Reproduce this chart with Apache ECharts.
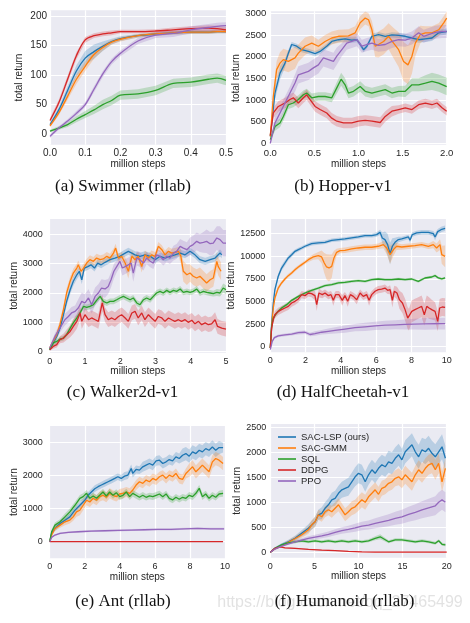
<!DOCTYPE html>
<html><head><meta charset="utf-8">
<script src="https://cdn.jsdelivr.net/npm/echarts@6.0.0/dist/echarts.min.js"></script>
<style>html,body{margin:0;padding:0;background:#fff}#c{width:470px;height:623px}</style>
</head><body><div id="c"></div>
<script>
// ---------------- DATA ----------------
const METHODS = ['SAC-LSP (ours)','SAC-GMM','SQL','DDPG','PPO'];
// each point: [million steps, mean return, half-width of shaded band]

// (a) Swimmer (rllab)
const swimmerXTicks = [0,0.1,0.2,0.3,0.4,0.5];
const swimmerYTicks = [0,50,100,150,200];
const swimmerBlue   = [[0,16,3],[0.025,41,5],[0.05,74,7],[0.075,107,10],[0.1,129,12],[0.125,140,12],[0.15,149,8],[0.175,157,5],[0.2,162,4],[0.25,167,3],[0.3,170,3],[0.35,172,3],[0.4,173,3],[0.45,173,3],[0.475,174,3],[0.5,174,3]];
const swimmerOrange = [[0,14,3],[0.025,36,4],[0.05,64,6],[0.075,93,8],[0.1,115,8],[0.125,135,7],[0.15,147,5],[0.175,156,4],[0.2,161,4],[0.25,167,3],[0.3,170,3],[0.35,172,3],[0.4,173,3],[0.45,173,3],[0.475,174,3],[0.5,174,3]];
const swimmerGreen  = [[0,5,2],[0.025,10,3],[0.05,16,4],[0.075,25,5],[0.1,33,6],[0.125,41,7],[0.15,50,8],[0.175,57,8],[0.2,66,8],[0.25,68,8],[0.3,74,8],[0.35,86,8],[0.4,88,8],[0.45,93,8],[0.475,95,8],[0.5,91,8]];
const swimmerRed    = [[0,23,4],[0.025,53,5],[0.05,93,6],[0.075,133,6],[0.1,160,5],[0.125,167,4],[0.15,170,4],[0.175,172,4],[0.2,174,3],[0.25,174,3],[0.3,175,3],[0.35,177,4],[0.4,179,4],[0.45,180,5],[0.475,179,5],[0.5,177,5]];
const swimmerPurple = [[0,-4,3],[0.025,10,3],[0.05,22,3],[0.075,35,4],[0.1,50,4],[0.125,76,5],[0.15,102,5],[0.175,123,5],[0.2,137,5],[0.25,158,5],[0.3,168,5],[0.35,171,6],[0.4,177,6],[0.45,181,6],[0.475,183,6],[0.5,184,6]];

// (b) Hopper-v1
const hopperXTicks = [0,0.5,1,1.5,2];
const hopperYTicks = [0,500,1000,1500,2000,2500,3000];
const hopperBlue   = [[0,160,40],[0.053,1160,150],[0.11,1620,150],[0.167,1850,100],[0.205,2080,80],[0.242,2280,60],[0.299,2240,60],[0.356,2160,60],[0.432,2120,60],[0.508,2070,60],[0.564,2120,60],[0.64,2240,60],[0.697,2350,60],[0.773,2390,60],[0.848,2410,60],[0.924,2380,60],[0.981,2390,60],[1.019,2280,60],[1.057,2160,60],[1.095,2240,60],[1.152,2470,60],[1.227,2510,60],[1.303,2470,60],[1.379,2500,60],[1.455,2490,60],[1.53,2470,60],[1.606,2430,70],[1.682,2390,70],[1.758,2410,70],[1.833,2430,70],[1.909,2550,70],[2.0,2580,70]];
const hopperOrange = [[0,160,40],[0.034,1080,150],[0.072,1700,200],[0.11,1850,250],[0.148,1930,250],[0.205,1890,250],[0.28,1970,250],[0.318,2080,200],[0.394,2240,200],[0.47,2310,180],[0.545,2240,150],[0.621,2350,150],[0.697,2430,150],[0.773,2470,150],[0.886,2480,150],[0.962,2550,150],[1.019,2780,150],[1.076,2890,150],[1.114,2850,150],[1.152,2620,200],[1.189,2240,250],[1.227,2280,300],[1.284,2350,300],[1.341,2470,300],[1.398,2310,350],[1.455,2160,400],[1.511,1890,450],[1.561,1810,450],[1.606,2010,400],[1.644,2310,300],[1.701,2510,200],[1.758,2550,150],[1.833,2550,150],[1.909,2620,150],[1.966,2780,150],[2.0,2890,150]];
const hopperGreen  = [[0,85,40],[0.053,390,100],[0.11,470,100],[0.148,620,100],[0.205,890,100],[0.261,930,100],[0.318,1010,100],[0.375,1120,100],[0.413,1160,100],[0.47,1050,100],[0.545,1080,100],[0.621,1080,100],[0.697,1050,100],[0.754,1280,130],[0.803,1480,150],[0.848,1350,150],[0.886,1160,120],[0.943,1200,120],[1.019,1310,120],[1.076,1200,120],[1.152,1160,120],[1.227,1200,120],[1.303,1240,120],[1.379,1160,120],[1.455,1200,120],[1.53,1200,130],[1.606,1350,150],[1.682,1350,150],[1.758,1390,180],[1.833,1430,200],[1.909,1390,200],[2.0,1310,200]];
const hopperRed    = [[0,180,40],[0.034,700,120],[0.091,850,120],[0.167,930,120],[0.223,1010,120],[0.261,1050,120],[0.318,930,120],[0.375,1050,120],[0.413,1120,120],[0.451,1010,120],[0.508,850,120],[0.564,780,120],[0.64,700,120],[0.697,580,120],[0.754,510,120],[0.83,470,120],[0.924,470,120],[1.0,510,120],[1.076,530,120],[1.152,510,120],[1.246,480,120],[1.303,620,120],[1.379,740,120],[1.455,780,100],[1.53,820,100],[1.606,780,100],[1.682,890,100],[1.758,930,100],[1.833,890,100],[1.89,930,100],[1.947,820,100],[2.0,740,100]];
const hopperPurple = [[0,0,30],[0.053,470,150],[0.11,700,150],[0.167,930,150],[0.223,1160,150],[0.28,1390,200],[0.318,1580,200],[0.375,1620,200],[0.432,1660,200],[0.489,1740,200],[0.545,1810,200],[0.602,1970,200],[0.659,1930,200],[0.716,1890,200],[0.754,2010,200],[0.811,2160,150],[0.867,2310,150],[0.924,2350,150],[0.981,2390,150],[1.038,2240,150],[1.095,2280,150],[1.152,2310,150],[1.227,2260,150],[1.303,2280,150],[1.379,2350,150],[1.455,2390,150],[1.53,2380,150],[1.606,2430,150],[1.682,2550,150],[1.739,2470,150],[1.795,2510,150],[1.871,2560,150],[1.947,2580,150],[2.0,2580,150]];

// (c) Walker2d-v1
const walkerXTicks = [0,1,2,3,4,5];
const walkerYTicks = [0,1000,2000,3000,4000];
const walkerBlue   = [[0,70,50],[0.1,300,100],[0.2,520,120],[0.29,800,120],[0.39,1260,150],[0.48,1715,150],[0.58,2110,150],[0.67,2400,150],[0.77,2620,150],[0.84,2740,150],[0.91,2450,150],[0.98,2850,120],[1.08,2900,120],[1.17,2960,120],[1.27,2850,120],[1.36,3020,120],[1.46,2960,120],[1.57,3045,120],[1.71,3135,120],[1.85,3190,120],[1.99,3250,120],[2.14,3360,120],[2.23,3420,120],[2.33,3360,120],[2.42,3300,120],[2.56,3250,120],[2.7,3300,120],[2.85,3250,120],[2.99,3135,120],[3.13,3250,120],[3.27,3190,120],[3.41,3250,120],[3.55,3300,120],[3.7,3360,120],[3.84,3300,120],[3.98,3420,120],[4.12,3300,120],[4.26,3135,120],[4.41,3080,120],[4.55,3135,120],[4.69,3190,120],[4.83,3360,120],[4.88,3300,120]];
const walkerOrange = [[0,125,50],[0.1,350,100],[0.2,580,120],[0.29,920,150],[0.39,1430,150],[0.48,2000,150],[0.58,2400,150],[0.67,2680,150],[0.77,2850,150],[0.81,2960,150],[0.89,2740,150],[0.96,2850,150],[1.05,3020,150],[1.14,3135,150],[1.24,3080,150],[1.33,3190,150],[1.43,3135,150],[1.52,3160,150],[1.62,3250,150],[1.71,3190,150],[1.81,3360,150],[1.87,3530,150],[1.95,3190,150],[2.04,3250,150],[2.14,3020,200],[2.23,2740,250],[2.33,3250,200],[2.42,3135,150],[2.51,3250,150],[2.61,2900,200],[2.7,3300,150],[2.8,3190,150],[2.89,3300,150],[2.99,3250,150],[3.08,3590,150],[3.18,3475,150],[3.27,3300,150],[3.37,3420,150],[3.46,3360,150],[3.55,3385,150],[3.65,3420,150],[3.72,3250,250],[3.79,2740,350],[3.89,2620,350],[3.98,2680,300],[4.07,2570,300],[4.17,2510,300],[4.26,2570,300],[4.36,2450,300],[4.45,2340,300],[4.55,2450,300],[4.64,2510,300],[4.74,3080,300],[4.78,2900,300],[4.86,2740,300]];
const walkerGreen  = [[0,70,40],[0.1,300,80],[0.2,350,80],[0.29,430,80],[0.39,465,80],[0.48,580,80],[0.58,800,100],[0.67,980,100],[0.77,1150,100],[0.86,1320,100],[0.96,1545,100],[1.05,1510,100],[1.14,1545,100],[1.24,1600,100],[1.33,1750,100],[1.43,1885,100],[1.52,1715,100],[1.62,1660,100],[1.71,1715,100],[1.81,1715,100],[1.9,1770,100],[1.99,1830,100],[2.09,1885,100],[2.18,1830,100],[2.28,1770,100],[2.37,1830,100],[2.47,1660,100],[2.56,1600,100],[2.66,1770,100],[2.75,1830,100],[2.85,1770,100],[2.94,1885,100],[3.03,2000,100],[3.13,2055,100],[3.22,2000,100],[3.32,2090,100],[3.41,2020,100],[3.51,2090,100],[3.6,2055,100],[3.7,2135,100],[3.79,2020,100],[3.89,2055,100],[3.98,2020,100],[4.07,2055,100],[4.17,2135,100],[4.26,2000,100],[4.36,2055,100],[4.45,2020,100],[4.55,2000,100],[4.64,1980,100],[4.74,2020,120],[4.83,2000,120],[4.92,2170,150],[5.0,2110,150]];
const walkerRed    = [[0,70,40],[0.1,180,80],[0.2,240,100],[0.29,410,120],[0.39,465,150],[0.48,580,180],[0.58,690,200],[0.67,860,250],[0.77,1035,250],[0.86,1320,250],[0.91,1035,250],[1.0,1260,250],[1.1,1090,250],[1.19,1150,250],[1.29,1090,250],[1.38,1035,250],[1.49,1660,300],[1.57,1260,250],[1.66,1090,250],[1.76,1150,250],[1.85,1090,250],[1.95,1200,250],[2.04,1260,250],[2.14,1150,250],[2.23,1035,250],[2.33,1320,250],[2.42,1375,250],[2.51,1150,250],[2.61,1320,250],[2.7,1090,250],[2.8,1260,250],[2.89,1150,250],[2.99,1035,250],[3.08,1200,250],[3.18,1150,250],[3.27,1035,250],[3.37,1150,250],[3.46,1090,250],[3.55,1035,250],[3.65,1090,250],[3.74,1035,250],[3.84,1090,250],[3.93,1000,250],[4.03,1070,250],[4.12,950,250],[4.22,1035,250],[4.31,920,250],[4.41,980,250],[4.5,920,250],[4.59,950,250],[4.69,1090,250],[4.76,860,250],[4.88,800,250],[5.0,770,250]];
const walkerPurple = [[0,125,50],[0.15,520,120],[0.29,800,150],[0.43,1090,200],[0.53,1200,200],[0.62,1320,200],[0.72,1375,200],[0.81,1490,300],[0.91,1715,300],[1.0,1660,300],[1.1,1830,300],[1.19,1600,300],[1.29,1885,300],[1.38,2000,300],[1.47,2170,300],[1.57,2140,300],[1.66,2225,250],[1.74,2450,250],[1.82,2740,250],[1.9,2900,200],[1.99,3080,200],[2.06,2850,250],[2.14,2900,250],[2.23,2960,250],[2.31,3020,250],[2.37,2680,300],[2.47,3190,250],[2.56,3135,250],[2.66,3020,250],[2.75,3190,200],[2.85,3080,200],[2.94,3020,200],[3.03,3300,200],[3.13,3250,200],[3.22,3135,200],[3.32,3250,200],[3.41,3190,200],[3.51,3360,250],[3.6,3420,250],[3.7,3590,250],[3.79,3530,250],[3.89,3475,250],[3.98,3590,300],[4.07,3650,300],[4.17,3760,300],[4.26,3700,300],[4.36,3725,350],[4.45,3760,400],[4.55,3680,400],[4.64,3700,400],[4.74,3875,400],[4.83,3820,450],[4.92,3700,450],[5.0,3700,450]];

// (d) HalfCheetah-v1
const cheetahXTicks = [0,2,4,6,8,10];
const cheetahYTicks = [0,2500,5000,7500,10000,12500];
const cheetahBlue   = [[0,-150,100],[0.076,2620,300],[0.17,4830,300],[0.26,6310,300],[0.45,7790,300],[0.64,8700,300],[0.83,9260,300],[1.02,9820,250],[1.21,10180,250],[1.4,10550,200],[1.59,10740,200],[1.78,10920,200],[1.97,11110,200],[2.34,11400,200],[2.72,11480,200],[3.1,11550,200],[3.48,11770,200],[3.86,11850,200],[4.23,11920,200],[4.61,12030,200],[4.99,12140,200],[5.37,12290,200],[5.75,12290,200],[6.03,12400,250],[6.22,12650,300],[6.35,12030,600],[6.5,11850,900],[6.65,11290,1200],[6.79,10300,1200],[6.92,11110,900],[7.07,11550,500],[7.26,11850,300],[7.45,11920,250],[7.64,12030,250],[7.83,12140,250],[7.92,11770,300],[8.05,12400,250],[8.3,12580,250],[8.58,12650,250],[8.96,12650,250],[9.24,12510,300],[9.34,12140,400],[9.49,12730,300],[9.72,12990,300],[9.91,13100,300]];
const cheetahOrange = [[0,-150,100],[0.076,2250,300],[0.17,4280,300],[0.26,5390,300],[0.45,6490,250],[0.64,7050,200],[0.83,7490,200],[1.02,7860,200],[1.21,8150,200],[1.4,8520,200],[1.59,8820,200],[1.78,9080,200],[1.97,9340,200],[2.16,9630,250],[2.44,9930,300],[2.72,10070,400],[2.91,9930,700],[3.06,9260,1100],[3.19,8820,1400],[3.33,8710,1500],[3.48,8890,1300],[3.61,9820,800],[3.76,10440,400],[3.95,10630,300],[4.23,10660,300],[4.61,10810,300],[4.99,10920,300],[5.37,11000,300],[5.75,11000,300],[6.12,11110,300],[6.41,11290,400],[6.6,10920,700],[6.79,10180,1000],[6.98,10740,700],[7.16,11110,400],[7.45,11030,300],[7.83,11110,300],[8.2,11180,300],[8.58,11290,300],[8.96,11110,300],[9.24,11290,400],[9.43,10920,500],[9.62,11290,600],[9.72,10180,1000],[9.91,10000,1200]];
const cheetahGreen  = [[0,-150,100],[0.076,2250,200],[0.17,3170,200],[0.36,3730,200],[0.64,4280,200],[0.93,4650,200],[1.21,5130,150],[1.59,5570,150],[1.97,5940,150],[2.34,6240,150],[2.72,6490,150],[3.1,6750,150],[3.48,6860,150],[3.86,7050,150],[4.23,7120,150],[4.61,7230,150],[4.99,7310,150],[5.37,7230,150],[5.75,7420,150],[6.12,7490,150],[6.5,7420,150],[6.88,7420,150],[7.26,7490,150],[7.64,7420,150],[8.02,7490,150],[8.39,7230,150],[8.77,7600,150],[9.15,7710,150],[9.34,7860,150],[9.53,7600,150],[9.72,7490,150],[9.91,7600,150]];
const cheetahRed    = [[0,-150,100],[0.076,2070,300],[0.17,2990,400],[0.26,3540,400],[0.45,3910,400],[0.64,4100,400],[0.83,4280,400],[1.02,4460,400],[1.21,4830,400],[1.4,5020,400],[1.59,5280,400],[1.78,5760,400],[1.97,5650,400],[2.16,5940,400],[2.34,5870,400],[2.53,5650,500],[2.63,4650,700],[2.76,5940,500],[2.95,5760,400],[3.1,5940,400],[3.29,5650,400],[3.44,5760,400],[3.57,5130,600],[3.71,5760,400],[3.89,5760,400],[4.08,5130,600],[4.23,5650,400],[4.39,5020,600],[4.54,5760,400],[4.71,5570,400],[4.9,5200,500],[5.09,5940,400],[5.27,5570,400],[5.46,5760,400],[5.6,5130,600],[5.75,5760,400],[5.94,6130,400],[6.12,6310,400],[6.31,6380,400],[6.5,6490,400],[6.65,6240,400],[6.79,6310,500],[6.92,5130,800],[7.03,6130,600],[7.18,5940,700],[7.32,5200,1000],[7.49,4830,1100],[7.64,4100,1200],[7.79,3170,1200],[7.86,2990,1200],[8.02,3910,1200],[8.2,4100,1200],[8.39,4280,1200],[8.58,4460,1200],[8.73,3540,1200],[8.87,4460,1200],[9.0,4280,1200],[9.15,4100,1100],[9.34,3910,1000],[9.49,2800,1100],[9.6,4280,1000],[9.75,4390,1000],[9.91,4350,1000]];
const cheetahPurple = [[0,-330,100],[0.11,590,150],[0.23,1000,150],[0.45,1200,150],[0.83,1300,150],[1.21,1400,150],[1.59,1550,200],[1.97,1600,200],[2.25,1350,200],[2.53,1450,250],[2.91,1600,250],[3.29,1700,300],[3.67,1800,350],[4.23,1950,400],[4.8,2100,400],[5.37,2200,450],[5.94,2300,450],[6.5,2380,500],[7.07,2420,500],[7.64,2460,550],[8.2,2500,600],[8.77,2520,650],[9.34,2540,650],[9.91,2550,650]];

// (e) Ant (rllab)
const antXTicks = [0,2,4,6,8,10];
const antYTicks = [0,1000,2000,3000];
const antBlue   = [[0,0,20],[0.11,250,60],[0.3,400,80],[0.59,550,80],[0.87,650,80],[1.15,750,100],[1.44,950,100],[1.72,1100,100],[2.0,1250,100],[2.19,1400,100],[2.38,1500,100],[2.57,1600,100],[2.76,1660,100],[2.95,1710,100],[3.14,1760,100],[3.33,1810,100],[3.52,1860,100],[3.71,1910,100],[3.89,1960,100],[4.08,1910,100],[4.27,1980,120],[4.46,2010,120],[4.65,2210,120],[4.74,2060,120],[4.93,2180,120],[5.12,2160,120],[5.31,2260,150],[5.5,2310,150],[5.69,2360,150],[5.88,2310,150],[6.07,2440,150],[6.26,2460,150],[6.45,2360,150],[6.64,2410,150],[6.82,2480,150],[7.01,2440,150],[7.2,2560,150],[7.39,2510,150],[7.58,2610,200],[7.77,2660,200],[7.96,2580,200],[8.15,2710,200],[8.34,2660,200],[8.53,2760,200],[8.71,2710,200],[8.9,2810,200],[9.09,2760,200],[9.28,2860,200],[9.47,2760,200],[9.66,2840,200],[9.89,2840,150]];
const antOrange = [[0,0,20],[0.11,200,60],[0.3,400,80],[0.59,500,80],[0.87,600,100],[1.15,650,100],[1.34,750,120],[1.53,900,150],[1.72,950,150],[1.91,1100,150],[2.1,1250,150],[2.29,1200,150],[2.48,1310,150],[2.67,1250,150],[2.85,1360,150],[3.04,1400,150],[3.23,1340,150],[3.42,1460,150],[3.61,1400,150],[3.8,1360,150],[3.99,1440,150],[4.18,1460,150],[4.37,1500,150],[4.56,1460,150],[4.74,1560,150],[4.93,1710,150],[5.12,1810,150],[5.31,1760,150],[5.5,1860,150],[5.69,1810,150],[5.88,1910,150],[6.07,1860,150],[6.26,1960,150],[6.45,2010,150],[6.64,1910,150],[6.82,2010,150],[7.01,1960,150],[7.2,2060,150],[7.39,1910,150],[7.58,1880,150],[7.77,2060,150],[7.96,2160,200],[8.15,2260,200],[8.34,2110,200],[8.53,2210,200],[8.71,2310,200],[8.9,2210,200],[9.09,2110,200],[9.28,2410,200],[9.47,2510,200],[9.66,2460,200],[9.89,2360,200]];
const antGreen  = [[0,0,20],[0.11,300,60],[0.3,500,80],[0.59,600,80],[0.87,750,100],[1.15,900,100],[1.44,1100,100],[1.72,1310,100],[1.91,1360,100],[2.1,1460,100],[2.29,1310,100],[2.48,1380,100],[2.67,1310,100],[2.85,1400,100],[3.04,1500,100],[3.23,1380,100],[3.42,1500,100],[3.61,1400,100],[3.8,1480,100],[3.99,1360,100],[4.18,1400,100],[4.37,1500,100],[4.56,1360,100],[4.74,1460,100],[4.93,1400,100],[5.12,1340,100],[5.31,1400,100],[5.5,1340,100],[5.69,1380,100],[5.88,1360,100],[6.07,1400,100],[6.26,1440,100],[6.45,1360,100],[6.64,1440,100],[6.82,1310,100],[7.01,1260,100],[7.2,1340,100],[7.39,1280,100],[7.58,1340,100],[7.77,1310,100],[7.96,1400,100],[8.15,1360,100],[8.34,1460,100],[8.53,1610,100],[8.71,1360,100],[8.9,1440,100],[9.09,1310,100],[9.28,1400,100],[9.47,1340,100],[9.66,1440,100],[9.89,1460,100]];
const antRed    = [[0,0,5],[2.5,0,5],[5,0,5],[7.5,0,5],[9.89,0,5]];
const antPurple = [[0,0,10],[0.11,130,20],[0.3,200,25],[0.59,250,25],[1.06,280,25],[1.63,300,30],[2.38,320,30],[3.14,330,30],[3.89,340,30],[4.65,350,30],[5.4,360,30],[6.16,370,30],[6.92,370,30],[7.68,390,30],[8.43,400,30],[9.19,390,30],[9.95,390,30]];

// (f) Humanoid (rllab)
const humanoidXTicks = [0,5,10,15,20];
const humanoidYTicks = [0,500,1000,1500,2000,2500];
const humanoidBlue   = [[0,0,10],[0.53,80,20],[1.29,150,30],[2.05,210,40],[2.8,280,50],[3.56,380,60],[4.32,480,80],[5.08,610,100],[5.45,750,100],[5.83,780,120],[6.21,880,120],[6.59,950,130],[6.97,1050,140],[7.35,1080,150],[7.73,1180,150],[8.11,1250,160],[8.48,1280,170],[8.86,1310,180],[9.24,1410,180],[9.62,1510,190],[10.0,1580,200],[10.38,1550,200],[10.76,1410,200],[11.14,1550,200],[11.52,1650,200],[11.89,1580,200],[12.27,1680,200],[12.65,1750,200],[13.03,1710,200],[13.41,1810,220],[13.79,1780,220],[14.17,1880,220],[14.55,1950,220],[14.92,1850,220],[15.3,2010,230],[15.68,2080,230],[16.06,2150,230],[16.44,2010,240],[16.82,1910,240],[17.2,2050,240],[17.58,2010,250],[17.95,2080,250],[18.33,1980,250],[18.71,1910,250],[19.09,2010,250],[19.47,2110,250],[19.85,1880,250]];
const humanoidOrange = [[0,0,10],[0.53,70,20],[1.29,130,30],[2.05,200,40],[2.8,270,50],[3.56,350,60],[4.32,450,80],[4.7,550,90],[5.08,610,100],[5.45,750,100],[5.83,710,100],[6.21,810,110],[6.59,850,110],[6.97,810,120],[7.35,880,120],[7.73,950,130],[8.11,850,130],[8.48,750,130],[8.86,810,130],[9.24,880,140],[9.62,910,140],[10.0,980,150],[10.38,1050,150],[10.76,1000,150],[11.14,1110,150],[11.52,1180,150],[11.89,1250,150],[12.27,1160,150],[12.65,1280,150],[13.03,1310,150],[13.41,1380,160],[13.79,1410,160],[14.17,1480,160],[14.55,1510,170],[14.92,1450,170],[15.3,1550,180],[15.68,1480,180],[16.06,1410,180],[16.44,1550,180],[16.82,1650,190],[17.2,1580,190],[17.58,1680,200],[17.95,1750,200],[18.33,1780,200],[18.71,1650,200],[19.09,1780,200],[19.47,1410,200],[19.85,1680,200]];
const humanoidGreen  = [[0,0,10],[0.53,80,20],[1.29,150,30],[2.05,190,30],[2.8,210,30],[3.56,230,30],[4.32,210,30],[5.08,230,30],[5.83,210,30],[6.59,230,30],[7.35,210,30],[8.11,230,30],[8.86,210,30],[9.62,230,30],[10.38,210,30],[11.14,230,30],[11.89,280,40],[12.46,310,50],[12.84,270,40],[13.41,210,30],[14.17,250,30],[14.92,250,30],[15.68,230,30],[16.44,210,30],[17.2,230,30],[17.95,210,30],[18.71,180,30],[19.09,230,30],[19.47,160,30],[19.85,150,30]];
const humanoidRed    = [[0,0,5],[0.53,80,10],[1.1,110,10],[1.67,90,10],[2.8,80,10],[4.32,60,10],[5.83,45,10],[7.35,35,10],[8.86,20,8],[10.38,10,8],[11.89,5,5],[15,5,5],[20,5,5]];
const humanoidPurple = [[0,0,10],[0.53,65,15],[1.29,125,20],[2.05,170,25],[2.8,210,30],[3.56,245,35],[4.32,280,40],[5.08,305,45],[5.83,330,50],[6.59,360,55],[7.35,400,60],[8.11,435,65],[8.86,460,70],[9.62,490,80],[10.38,525,85],[11.14,545,90],[11.89,580,100],[12.65,610,110],[13.41,640,120],[14.17,680,130],[14.92,710,140],[15.68,760,150],[16.44,800,160],[17.2,850,170],[17.95,890,180],[18.71,930,190],[19.09,1000,200],[19.47,1050,200],[19.85,1000,200]];

// ---------------- LAYOUT / STYLE ----------------
const COLORS = ['#1f77b4','#ff7f0e','#2ca02c','#d62728','#9467bd'];
const TXT = '#262626';
const SANS = '"Liberation Sans", Arial, sans-serif';
const SERIF = '"Liberation Serif", "Times New Roman", serif';

const panels = [
  {series:[swimmerBlue,swimmerOrange,swimmerGreen,swimmerRed,swimmerPurple], xt:swimmerXTicks, yt:swimmerYTicks, xDec:1,
   grid:{left:50,top:10.3,width:176,height:134.4}, yMin:-18.2, yMax:210.2, smooth:true, yMargin:3, fs:10,
   caption:'(a) Swimmer (rllab)', cx:123, cy:187},
  {series:[hopperBlue,hopperOrange,hopperGreen,hopperRed,hopperPurple], xt:hopperXTicks, yt:hopperYTicks, xDec:1,
   grid:{left:270.3,top:11.3,width:176.4,height:133.4}, yMin:-32, yMax:3046, smooth:false, yMargin:4, fs:9.5,
   caption:'(b) Hopper-v1', cx:343, cy:187},
  {series:[walkerBlue,walkerOrange,walkerGreen,walkerRed,walkerPurple], xt:walkerXTicks, yt:walkerYTicks, xDec:0,
   grid:{left:49.7,top:219,width:176.3,height:133.7}, yMin:-34, yMax:4521, smooth:false, yMargin:7, fs:9,
   caption:'(c) Walker2d-v1', cx:122.5, cy:393},
  {series:[cheetahBlue,cheetahOrange,cheetahGreen,cheetahRed,cheetahPurple], xt:cheetahXTicks, yt:cheetahYTicks, xDec:0,
   grid:{left:270.3,top:219,width:176.4,height:133.3}, yMin:-620, yMax:14126, smooth:false, yMargin:5, fs:9,
   caption:'(d) HalfCheetah-v1', cx:343, cy:393},
  {series:[antBlue,antOrange,antGreen,antRed,antPurple], xt:antXTicks, yt:antYTicks, xDec:0,
   grid:{left:49.7,top:426,width:175.3,height:132.3}, yMin:-501, yMax:3492, smooth:false, yMargin:7, fs:9,
   caption:'(e) Ant (rllab)', cx:123, cy:601.7},
  {series:[humanoidBlue,humanoidOrange,humanoidGreen,humanoidRed,humanoidPurple], xt:humanoidXTicks, yt:humanoidYTicks, xDec:0,
   grid:{left:270.3,top:424,width:176.4,height:133.7}, yMin:-108, yMax:2566, smooth:false, yMargin:4, fs:9,
   caption:'(f) Humanoid (rllab)', cx:344.5, cy:601.7}
];

function rgba(hex, a){
  const n = parseInt(hex.slice(1),16);
  return 'rgba('+((n>>16)&255)+','+((n>>8)&255)+','+(n&255)+','+a+')';
}

const grids = [], xAxes = [], yAxes = [], series = [];
panels.forEach((p, i) => {
  grids.push(Object.assign({show:true, backgroundColor:'#EAEAF2', borderWidth:0, containLabel:false}, p.grid));
  xAxes.push({type:'value', gridIndex:i, min:p.xt[0], max:p.xt[p.xt.length-1],
    axisLine:{show:false}, axisTick:{show:false, customValues:p.xt},
    axisLabel:{customValues:p.xt, fontSize:p.fs, color:TXT, fontFamily:SANS, margin:4,
      formatter:v => p.xDec ? Number(v).toFixed(p.xDec) : String(Math.round(v))},
    splitLine:{show:true, lineStyle:{color:'#ffffff', width:1.2}},
    name:'million steps', nameLocation:'middle', nameGap:12,
    nameTextStyle:{fontSize:10, color:TXT, fontFamily:SANS}});
  yAxes.push({type:'value', gridIndex:i, min:p.yMin, max:p.yMax,
    axisLine:{show:false}, axisTick:{show:false, customValues:p.yt},
    axisLabel:{customValues:p.yt, fontSize:p.fs, color:TXT, fontFamily:SANS, margin:p.yMargin,
      formatter:v => String(Math.round(v))},
    splitLine:{show:true, lineStyle:{color:'#ffffff', width:1.2}},
    name:'total return', nameLocation:'middle', nameGap:26,
    nameTextStyle:{fontSize:10, color:TXT, fontFamily:SANS}});
  // shaded bands
  p.series.forEach((arr, j) => {
    series.push({type:'custom', xAxisIndex:i, yAxisIndex:i, silent:true, animation:false, clip:true, z:2,
      data:[[arr[0][0], arr[0][1]]],
      renderItem:(params, api) => {
        const up = arr.map(d => api.coord([d[0], d[1] + d[2]]));
        const lo = arr.slice().reverse().map(d => api.coord([d[0], d[1] - d[2]]));
        return {type:'polygon', shape:{points:up.concat(lo)}, style:{fill:rgba(COLORS[j], 0.24)}};
      }});
  });
  // mean lines
  p.series.forEach((arr, j) => {
    series.push({type:'line', name:METHODS[j], xAxisIndex:i, yAxisIndex:i,
      data:arr.map(d => [d[0], d[1]]), showSymbol:false, symbol:'none',
      smooth:p.smooth ? 0.35 : false, clip:true, silent:true, animation:false, z:3,
      lineStyle:{color:COLORS[j], width:1.3}, itemStyle:{color:COLORS[j]}});
  });
});

const graphics = [
  {type:'text', x:340, y:603, z:0, silent:true,
   style:{text:'https://blog.csdn.net/qq_27465499', font:'16px ' + SANS, fill:'rgba(160,160,160,0.3)', align:'center', verticalAlign:'middle'}}
];
panels.forEach(p => graphics.push({type:'text', x:p.cx, y:p.cy, z:10, silent:true,
  style:{text:p.caption, font:'17px ' + SERIF, fill:'#111', align:'center', verticalAlign:'middle'}}));

const chart = echarts.init(document.getElementById('c'), null, {renderer:'canvas'});
chart.setOption({
  animation:false,
  backgroundColor:'#ffffff',
  grid:grids, xAxis:xAxes, yAxis:yAxes, series:series,
  legend:{data:METHODS, orient:'vertical', left:278, top:432, icon:'rect', itemWidth:18, itemHeight:1.6,
    itemGap:1, padding:0, selectedMode:false, textStyle:{fontSize:9.5, color:TXT, fontFamily:SANS}},
  graphic:graphics
});
</script></body></html>
